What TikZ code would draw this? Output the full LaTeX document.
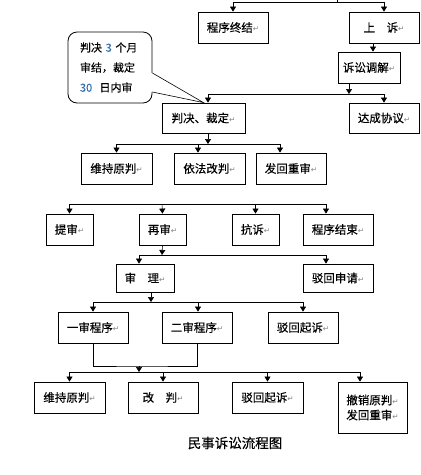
\documentclass[tikz,border=0pt]{standalone}
\usepackage{fontspec}
\usepackage{xcolor}
\usetikzlibrary{shapes, arrows.meta, positioning}
\newfontfamily\cjk[FakeBold=0.4]{Noto Sans CJK SC}
\newfontfamily\symfont{DejaVu Sans}
\definecolor{numblue}{RGB}{50,110,170}
\newcommand{\retmark}{{\symfont\color{gray}\fontsize{7.5pt}{8pt}\selectfont ↵}}
\tikzset{
    box/.style={draw, rectangle, line width=0.8pt, minimum height=31pt, inner sep=2pt,
        font=\cjk\fontsize{11.5pt}{13pt}\selectfont},
    arr/.style={line width=0.6pt, -{Triangle[length=5pt, width=6pt]}},
    link/.style={line width=0.6pt}
}

\begin{document}
\begin{tikzpicture}[x=1pt, y=-1pt]
    \useasboundingbox (0,0) rectangle (421,475);

    % top row
    \node[box, minimum width=70pt] (end1) at (233,27.5) {程序终结\retmark};
    \node[box, minimum width=70pt] (appeal) at (384,27.5) {上\quad 诉\retmark};
    \node[box, minimum width=62pt] (mediate) at (369,67.5) {诉讼调解\retmark};
    \node[box, minimum width=83pt, minimum height=30pt] (judge) at (203.5,118) {判决、裁定\retmark};
    \node[box, minimum width=70pt, minimum height=30pt] (agree) at (384,118) {达成协议\retmark};

    % second instance results
    \node[box, minimum width=71pt] (keep1) at (116.5,168.5) {维持原判\retmark};
    \node[box, minimum width=71pt] (change1) at (209.5,168.5) {依法改判\retmark};
    \node[box, minimum width=70pt] (remand1) at (291,168.5) {发回重审\retmark};

    % retrial
    \node[box, minimum width=47pt] (bring) at (69.5,229.5) {提审\retmark};
    \node[box, minimum width=47pt] (retrial) at (162.5,229.5) {再审\retmark};
    \node[box, minimum width=47pt] (protest) at (255.5,229.5) {抗诉\retmark};
    \node[box, minimum width=70pt] (end2) at (338,229.5) {程序结束\retmark};
    \node[box, minimum width=58pt, minimum height=28pt] (hear) at (145,278) {审\quad 理\retmark};
    \node[box, minimum width=70pt, minimum height=28pt] (reject1) at (338,278) {驳回申请\retmark};

    \node[box, minimum width=70pt] (first) at (93,327.5) {一审程序\retmark};
    \node[box, minimum width=70pt] (second) at (197,327.5) {二审程序\retmark};
    \node[box, minimum width=70pt] (reject2) at (303,327.5) {驳回起诉\retmark};

    % final results
    \node[box, minimum width=71pt] (keep2) at (69.5,397.5) {维持原判\retmark};
    \node[box, minimum width=70pt] (change2) at (163,397.5) {改\quad 判\retmark};
    \node[box, minimum width=71pt] (reject3) at (267.5,397.5) {驳回起诉\retmark};
    \node[box, minimum width=69pt, minimum height=51pt, align=left] (revoke) at (372.5,407.5)
        {撤销原判\retmark\\[2pt]发回重审\retmark};

    \node[font=\cjk\fontsize{13.5pt}{15pt}\selectfont] (title) at (235,443) {民事诉讼流程图};

    % note on time limits
    \node[draw, rectangle, rounded corners=9pt, line width=0.8pt, minimum width=84pt,
        minimum height=71pt, align=left, text width=60pt,
        font=\cjk\fontsize{11pt}{20pt}\selectfont] (note) at (110,67.5)
        {判决 {\color{numblue}3} 个月\\审结，裁定\\{\color{numblue}30}\ \ 日内审};
    \fill[white] ([xshift=-1pt,yshift=-5.5pt]note.east) rectangle ([xshift=1pt,yshift=-24.5pt]note.east);
    \draw[line width=0.6pt] ([yshift=-5.5pt]note.east) -- (judge.north) -- ([yshift=-24.5pt]note.east);

    % connectors
    \coordinate (top) at (337,0);
    \draw[arr] (top) -- ++(0,2) -| (end1.north);
    \draw[arr] (top) -- ++(0,2) -| (appeal.north);
    \draw[arr] ([xshift=-11pt]appeal.south) -- ([xshift=4pt]mediate.north);

    \coordinate (bus1) at (349,94);
    \draw[arr] ([xshift=-20pt]mediate.south) -- (bus1);
    \draw[arr] (bus1) -| ([xshift=4.5pt]judge.north);
    \draw[arr] (bus1) -| (agree.north);

    \coordinate (bus2) at (208,144);
    \draw[arr] ([xshift=4.5pt]judge.south) -- (bus2);
    \draw[arr] (bus2) -| (keep1.north);
    \draw[arr] (bus2) -| ([xshift=-11.5pt]change1.north);
    \draw[arr] (bus2) -| ([xshift=-11pt]remand1.north);

    \coordinate (bus3) at (162,204);
    \draw[arr] (bus3) -| (bring.north);
    \draw[arr] (bus3) -- (retrial.north);
    \draw[arr] (bus3) -| (protest.north);
    \draw[arr] (bus3) -| ([xshift=-12pt]end2.north);

    \coordinate (bus4) at (162,255);
    \draw[arr] (retrial.south) -- (bus4);
    \draw[arr] (bus4) -| ([xshift=-6pt]hear.north);
    \draw[arr] (bus4) -| ([xshift=-12pt]reject1.north);

    \coordinate (bus5) at (151,302);
    \draw[arr] ([xshift=6pt]hear.south) -- (bus5);
    \draw[arr] (bus5) -| (first.north);
    \draw[arr] (bus5) -| ([xshift=1pt]second.north);
    \draw[arr] (bus5) -| (reject2.north);

    \coordinate (join) at (139,366);
    \coordinate (bus6) at (139,372);
    \draw[link] (first.south) |- (join) -| (second.south);
    \draw[arr] (join) -- (bus6);
    \draw[arr] (bus6) -| (keep2.north);
    \draw[arr] (bus6) -| (change2.north);
    \draw[arr] (bus6) -| (reject3.north);
    \draw[arr] (bus6) -| ([xshift=-12.5pt]revoke.north);
\end{tikzpicture}
\end{document}
